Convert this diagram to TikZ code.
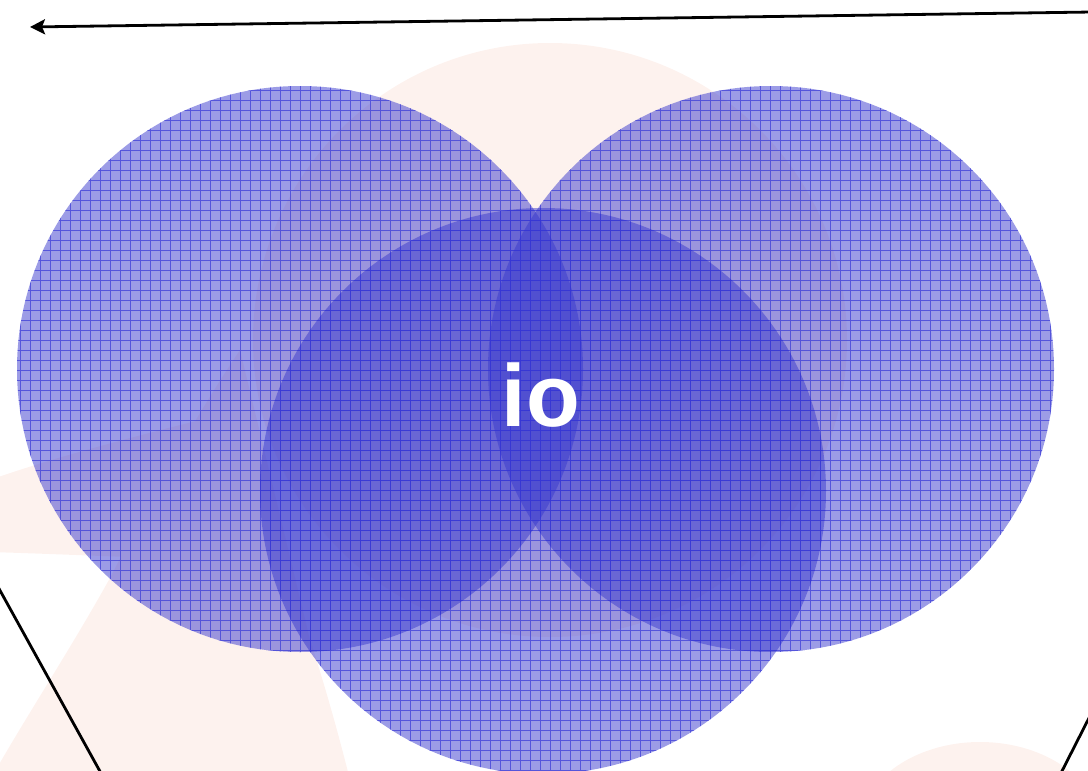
\documentclass[tikz,border=0pt]{standalone}
\usepackage{fontspec}
\setmainfont{Liberation Sans}
\usetikzlibrary{arrows.meta}
\definecolor{peach}{RGB}{253,242,238}
\definecolor{vblue}{RGB}{58,58,205}
\definecolor{gridblue}{RGB}{55,55,215}
\tikzset{
 venn/.style={fill=vblue, fill opacity=0.5, draw=none},
 gridline/.style={draw=gridblue, line width=0.9pt, opacity=0.7},
 wire/.style={draw=black, line width=2.8pt},
 iotext/.style={text=white, font=\fontsize{88}{88}\selectfont\bfseries, inner sep=0pt},
 bg/.style={fill=peach, draw=none}
}
\begin{document}
\begin{tikzpicture}[x=1pt,y=-1pt]
\useasboundingbox (0,0) rectangle (1088,771);
\clip (0,0) rectangle (1088,771);
% faint background shapes
\fill[bg] (550,340) circle (297pt);
\fill[bg] (-10,480) .. controls (60,455) and (160,430) .. (240,410) -- (260,560) .. controls (180,560) and (90,555) .. (-10,552) -- cycle;
\fill[bg] (240,350) .. controls (180,440) and (140,520) .. (110,578) .. controls (70,650) and (30,710) .. (-10,780) -- (350,780) .. controls (335,720) and (320,670) .. (310,640) -- cycle;
\fill[bg] (980,832) ellipse (122pt and 90pt);
% circle centres
\coordinate (cL) at (300,369);
\coordinate (cR) at (771,369);
\coordinate (cB) at (543,491);
% circles
\foreach \c in {cL,cR,cB}{
  \path[venn] (\c) circle (283pt);
  \begin{scope}
    \clip (\c) circle (283pt);
    \draw[gridline] (0,0) grid[step=10pt] (1088,780);
  \end{scope}
}
% label
\node[iotext, anchor=base] (io) at (541,426) {io};
% connectors
\coordinate (aR) at (1092,12);
\coordinate (aL) at (30,27);
\draw[wire, -{Stealth[length=15pt, width=15pt, inset=3pt]}] (aR) -- (aL);
\coordinate (l1a) at (-3,585);
\coordinate (l1b) at (102,775);
\draw[wire] (l1a) -- (l1b);
\coordinate (l2a) at (1092,712);
\coordinate (l2b) at (1060,775);
\draw[wire] (l2a) -- (l2b);
\end{tikzpicture}
\end{document}
